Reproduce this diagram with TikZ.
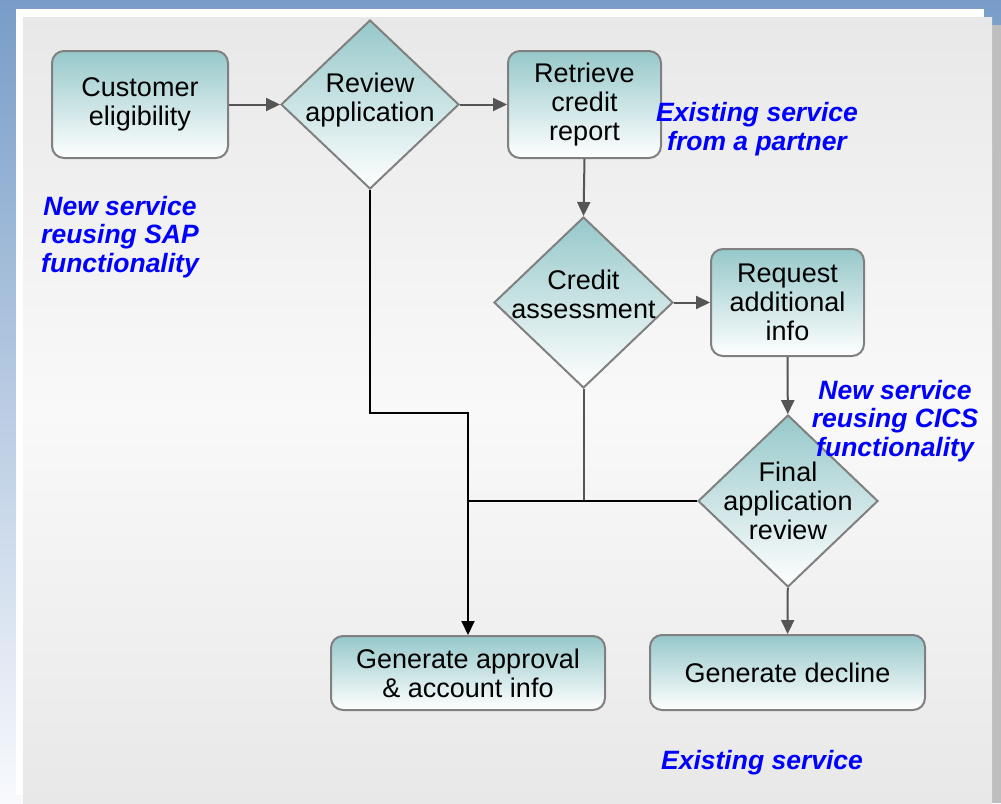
\documentclass[tikz,border=0pt]{standalone}
\usepackage{fontspec}
\setmainfont{Liberation Sans}
\usetikzlibrary{shapes.geometric,arrows.meta,positioning}
\definecolor{bgtop}{RGB}{120,157,200}
\definecolor{bgbot}{RGB}{248,250,253}
\definecolor{panel}{RGB}{232,232,232}
\definecolor{panelmid}{RGB}{249,249,249}
\definecolor{shadowgray}{RGB}{190,190,190}
\definecolor{tealtop}{RGB}{150,200,202}
\definecolor{edgegray}{RGB}{128,128,128}
\definecolor{wiregray}{RGB}{85,85,85}
\definecolor{noteblue}{RGB}{0,0,255}
\tikzset{
	box/.style={draw=edgegray, line width=2pt, rounded corners=12pt,
		top color=tealtop, bottom color=white, align=center, inner sep=2pt,
		font=\fontsize{27}{29}\selectfont},
	dec/.style={diamond, draw=edgegray, line width=2pt, inner sep=0pt,
		top color=tealtop, bottom color=white},
	decname/.style={align=center, font=\fontsize{27}{29}\selectfont},
	remark/.style={text=noteblue, align=center,
		font=\fontsize{26.5}{28.5}\selectfont\bfseries\itshape},
	flow/.style={->, draw=wiregray, line width=2pt},
	mainflow/.style={draw=black, line width=2pt},
}
\begin{document}
\begin{tikzpicture}[x=1pt, y=-1pt, >={Triangle[length=14pt,width=13pt]}]
\useasboundingbox (0,0) rectangle (1001,803);
% the slide
\fill[top color=bgtop, bottom color=bgbot] (0,0) rectangle (1001,803);
\fill[white] (16,9) rectangle (984,795);
\fill[shadowgray] (992,25) rectangle (1001,803);
\fill[top color=panel, bottom color=panel, middle color=panelmid] (23,17) rectangle (992,803);

% the shapes
\node[box, minimum width=176pt, minimum height=107pt] (elig) at (140,104.5) {Customer\\eligibility};
\node[dec, minimum width=178pt, minimum height=169pt,
	label={[decname, yshift=4pt]center:Review\\application}] (review) at (370,104.5) {};
\node[box, minimum width=153pt, minimum height=107pt] (credit) at (584.5,104.5) {Retrieve\\credit\\report};
\node[dec, minimum width=179pt, minimum height=171pt,
	label={[decname, yshift=8pt]center:Credit\\assessment}] (assess) at (583.5,302.5) {};
\node[box, minimum width=153pt, minimum height=107pt] (request) at (787.5,302.5) {Request\\additional\\info};
\node[dec, minimum width=180pt, minimum height=172pt,
	label={[decname]center:Final\\application\\review}] (final) at (788,501) {};
\node[box, minimum width=274pt, minimum height=74pt] (approve) at (468,673) {Generate approval\\\& account info};
\node[box, minimum width=275pt, minimum height=75pt] (decline) at (787.5,672.5) {Generate decline};
\coordinate (bend) at (468,413);
\coordinate (join) at (468,501);

% the arrows
\draw[flow] (elig) -- (review);
\draw[flow] (review) -- (credit);
\draw[flow] (credit.south) -- (assess.north);
\draw[flow] (assess) -- (request);
\draw[flow] (request) -- (final);
\draw[flow] (final) -- (decline);
\draw[draw=wiregray, line width=2pt] (assess.south) |- (join);
\draw[mainflow] (final.west) -- (join);
\draw[mainflow, ->] (review.south) |- (bend) -- (approve.north);

%the notes
\node[remark] (sap) at (120,237) {New service\\reusing SAP\\functionality};
\node[remark] (partner) at (757,129) {Existing service\\from a partner};
\node[remark] (cics) at (895,421) {New service\\reusing CICS\\functionality};
\node[remark] (existing) at (762,763) {Existing service};
\end{tikzpicture}
\end{document}
